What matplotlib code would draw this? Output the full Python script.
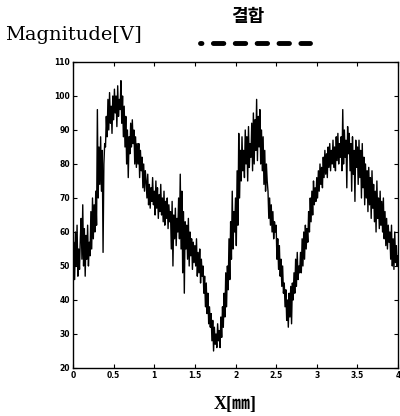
import matplotlib.pyplot as plt
import numpy as np
from matplotlib.lines import Line2D

# signal, one value every 0.01 mm (one row = 0.1 mm)
x_step = 0.01
magnitude = [
    48, 57, 46, 60, 50, 62, 47, 55, 49, 58,
    64, 52, 68, 50, 61, 47, 59, 52, 62, 50,
    57, 53, 66, 55, 70, 58, 68, 60, 72, 62,
    96, 70, 85, 74, 88, 72, 84, 54, 80, 86,
    85, 94, 88, 99, 90, 101, 92, 97, 89, 100,
    93, 102, 95, 100, 91, 103, 94, 99, 96, 104.5,
    92, 100, 88, 97, 85, 94, 80, 90, 76, 88,
    83, 92, 85, 93, 86, 90, 80, 88, 79, 86,
    80, 86, 76, 84, 78, 82, 73, 80, 72, 78,
    75, 70, 77, 68, 74, 67, 73, 69, 76, 68,
    72, 65, 75, 67, 73, 64, 71, 66, 74, 65,
    70, 63, 72, 62, 69, 64, 70, 61, 68, 63,
    66, 55, 69, 50, 65, 58, 67, 56, 64, 60,
    70, 58, 77, 55, 72, 48, 66, 42, 63, 55,
    62, 52, 64, 50, 60, 53, 58, 49, 57, 51,
    56, 50, 58, 47, 54, 48, 55, 45, 52, 47,
    50, 42, 47, 38, 45, 36, 42, 33, 38, 32,
    36, 28, 34, 25, 32, 27, 30, 26, 33, 28,
    31, 26, 35, 29, 38, 32, 42, 35, 48, 38,
    50, 43, 58, 46, 63, 52, 72, 55, 66, 60,
    70, 56, 78, 62, 89, 70, 84, 75, 88, 78,
    84, 76, 90, 80, 88, 75, 91, 79, 86, 82,
    92, 78, 95, 80, 93, 84, 99, 81, 94, 85,
    96, 80, 90, 78, 88, 74, 84, 72, 80, 75,
    72, 64, 70, 62, 68, 60, 66, 58, 63, 60,
    62, 52, 58, 49, 56, 47, 52, 44, 50, 42,
    45, 38, 43, 34, 40, 32, 42, 35, 44, 33,
    45, 40, 48, 42, 52, 44, 54, 46, 50, 48,
    54, 48, 58, 50, 60, 52, 62, 55, 61, 57,
    66, 60, 70, 63, 72, 65, 75, 68, 73, 69,
    76, 70, 78, 72, 80, 74, 79, 73, 82, 76,
    84, 77, 83, 76, 85, 79, 86, 78, 84, 80,
    87, 79, 85, 78, 88, 81, 89, 80, 86, 82,
    88, 78, 96, 80, 90, 82, 87, 73, 91, 83,
    89, 78, 86, 72, 88, 77, 84, 69, 87, 79,
    85, 74, 87, 76, 84, 70, 86, 73, 82, 68,
    80, 70, 78, 66, 79, 68, 76, 64, 78, 67,
    74, 63, 72, 60, 75, 64, 70, 61, 72, 62,
    69, 60, 70, 58, 66, 56, 64, 55, 62, 57,
    60, 52, 62, 50, 58, 49, 60, 51, 56, 50,
    53,
]
x_ticks = [0, 0.5, 1, 1.5, 2, 2.5, 3, 3.5, 4]
x_labels = ['0', '0.5', '1', '1.5', '2', '2.5', '3', '3.5', '4']
y_ticks = list(range(20, 111, 10))

x = np.arange(len(magnitude)) * x_step

fig = plt.figure(figsize=(4, 4.16), dpi=100)
ax = fig.add_axes([0.1825, 0.1154, 0.8125, 0.7356])
ax.plot(x, magnitude, color='black', lw=1.0)

ax.set_xlim(0, 4)
ax.set_ylim(20, 110)
ax.set_xticks(x_ticks)
ax.set_xticklabels(x_labels)
ax.set_yticks(y_ticks)
ax.tick_params(direction='in', top=True, right=True, length=3, width=0.8,
               labelsize=5.5, pad=2)
for lab in ax.get_xticklabels() + ax.get_yticklabels():
    lab.set_fontweight('bold')
for s in ax.spines.values():
    s.set_linewidth(1.0)

# header texts
fig.text(0.012, 0.916, 'Magnitude[V]', family='DejaVu Serif', fontsize=14,
         va='center', ha='left')
fig.text(0.62, 0.96, '결합', family='Noto Sans CJK KR', fontweight='bold',
         fontsize=13, va='center', ha='center')
# dashed legend sample under the label
fig.add_artist(Line2D([0.499, 0.776], [0.8966, 0.8966], transform=fig.transFigure,
                      color='black', lw=3.5, linestyle=(1.85, (2.15, 2.35)),
                      dash_capstyle='round'))

fig.text(0.588, 0.027, 'X[㎜]', family=['Liberation Serif', 'Noto Sans CJK KR'],
         fontweight='bold', fontsize=13, va='center', ha='center')

fig.savefig('out.png', dpi=100)
